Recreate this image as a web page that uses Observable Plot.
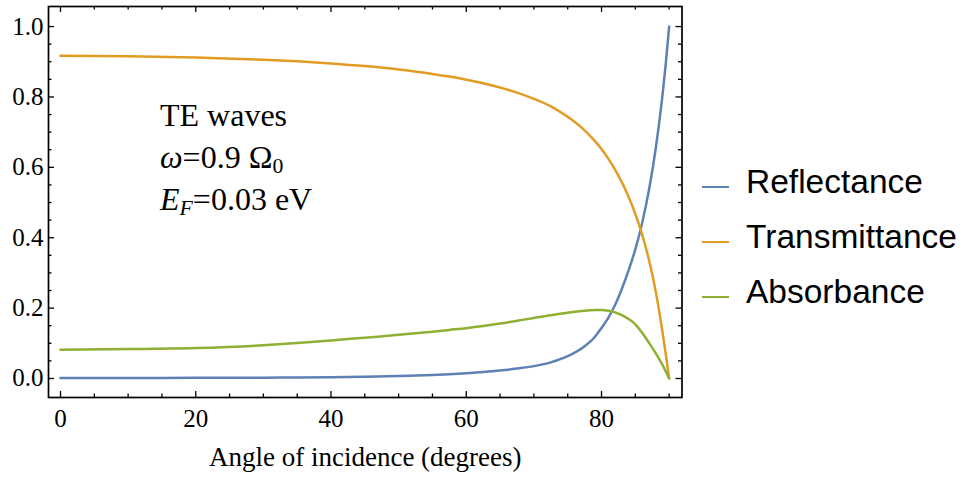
<!DOCTYPE html>
<html><head><meta charset="utf-8">
<script src="https://cdn.jsdelivr.net/npm/d3@7"></script>
<script src="https://cdn.jsdelivr.net/npm/@observablehq/plot@0.6"></script>
<style>
body{margin:0;background:#fff;}
#wrap{position:relative;width:963px;height:477px;overflow:hidden;}
#wrap svg{position:absolute;left:0;top:0;}
.note{position:absolute;left:160px;top:94px;font-family:"Liberation Serif","Times New Roman",serif;font-size:32px;line-height:42px;color:#000;white-space:nowrap;}
.note sub{font-size:0.68em;vertical-align:-0.22em;line-height:0;}
.legend{position:absolute;left:702px;top:153.6px;font-family:"Liberation Sans",Arial,sans-serif;font-size:33.5px;line-height:55px;color:#000;}
.row{position:relative;height:55px;white-space:nowrap;}
.sw{position:absolute;left:0;top:32px;width:27px;height:2px;}
.lab{position:absolute;left:44px;top:0;}
</style></head>
<body>
<div id="wrap"></div>
<script>
const angle         = [0, 10, 20, 30, 35, 40, 45, 50, 55, 57.5, 60, 62.5, 65, 67.5, 70, 72.5, 75, 77.5, 79, 80, 81, 82, 83, 84, 85, 86, 87, 88, 88.5, 89, 89.5, 90];
const reflectance   = [0.0015, 0.0016, 0.0018, 0.0024, 0.0030, 0.0038, 0.0050, 0.0069, 0.0101, 0.0124, 0.0151, 0.0185, 0.0227, 0.0282, 0.0352, 0.0459, 0.0633, 0.0917, 0.118, 0.1437, 0.1723, 0.2086, 0.2545, 0.3072, 0.3671, 0.4412, 0.5339, 0.6514, 0.722, 0.8024, 0.8943, 1.0];
const transmittance = [0.917, 0.9159, 0.9123, 0.9058, 0.9012, 0.8951, 0.8876, 0.878, 0.8655, 0.8579, 0.8491, 0.8388, 0.8267, 0.8122, 0.7947, 0.7732, 0.7435, 0.7051, 0.6751, 0.6518, 0.6246, 0.5938, 0.558, 0.5165, 0.4678, 0.4093, 0.3383, 0.249, 0.1943, 0.1338, 0.0691, 0.0];
const absorbance    = [0.082, 0.0835, 0.0865, 0.0945, 0.101, 0.108, 0.116, 0.124, 0.133, 0.138, 0.143, 0.149, 0.156, 0.164, 0.172, 0.180, 0.187, 0.1925, 0.1945, 0.1945, 0.1925, 0.188, 0.180, 0.169, 0.154, 0.130, 0.102, 0.072, 0.056, 0.039, 0.020, 0.0];

const seriesNames  = ["Reflectance", "Transmittance", "Absorbance"];
const seriesColors = ["#5e81b5", "#e19c24", "#8fb032"];
const xMajor = [0, 20, 40, 60, 80];
const xMinor = [5, 10, 15, 25, 30, 35, 45, 50, 55, 65, 70, 75, 85, 90];
const yMajor = [0, 0.2, 0.4, 0.6, 0.8, 1.0];
const yMinor = [0.05, 0.1, 0.15, 0.25, 0.3, 0.35, 0.45, 0.5, 0.55, 0.65, 0.7, 0.75, 0.85, 0.9, 0.95];
const xLabel = "Angle of incidence (degrees)";

const seriesValues = [reflectance, transmittance, absorbance];
const rows = seriesNames.flatMap((s, k) => angle.map((a, i) => ({a, v: seriesValues[k][i], s})));

const W = 963, H = 477;
const mL = 48, mR = 281.5, mT = 6, mB = 80;
const fw = W - mL - mR, fh = H - mT - mB;
const majLen = 6, minLen = 3.5;
const tickStyle = {stroke: "black", strokeWidth: 1.3};
const serif = "Liberation Serif";

const chart = Plot.plot({
  width: W, height: H,
  marginLeft: mL, marginRight: mR, marginTop: mT, marginBottom: mB,
  style: {fontFamily: serif, fontSize: "25px", color: "black", background: "white"},
  x: {domain: [-1.775, 91.9], axis: null},
  y: {domain: [-0.054, 1.057], axis: null},
  color: {domain: seriesNames, range: seriesColors},
  marks: [
    Plot.line(rows, {x: "a", y: "v", stroke: "s", strokeWidth: 2.5, curve: "monotone-x"}),
    Plot.tickX(xMajor, {x: d => d, insetTop: fh - majLen, ...tickStyle}),
    Plot.tickX(xMinor, {x: d => d, insetTop: fh - minLen, ...tickStyle}),
    Plot.tickX(xMajor, {x: d => d, insetBottom: fh - majLen, ...tickStyle}),
    Plot.tickX(xMinor, {x: d => d, insetBottom: fh - minLen, ...tickStyle}),
    Plot.tickY(yMajor, {y: d => d, insetRight: fw - majLen, ...tickStyle}),
    Plot.tickY(yMinor, {y: d => d, insetRight: fw - minLen, ...tickStyle}),
    Plot.tickY(yMajor, {y: d => d, insetLeft: fw - majLen, ...tickStyle}),
    Plot.tickY(yMinor, {y: d => d, insetLeft: fw - minLen, ...tickStyle}),
    Plot.frame({stroke: "black", strokeWidth: 1.7}),
    Plot.text(xMajor, {x: d => d, text: d => String(d), frameAnchor: "bottom", dy: 12, lineAnchor: "top", fontSize: 25, fontFamily: serif, fill: "black"}),
    Plot.text(yMajor, {y: d => d, text: d => d3.format(".1f")(d), frameAnchor: "left", dx: -5, textAnchor: "end", lineAnchor: "middle", fontSize: 25, fontFamily: serif, fill: "black"}),
    Plot.text([xLabel], {text: d => d, frameAnchor: "bottom", dy: 68, lineAnchor: "bottom", fontSize: 27, fontFamily: serif, fill: "black"})
  ]
});

const wrap = document.getElementById("wrap");
wrap.appendChild(chart);

const note = document.createElement("div");
note.className = "note";
note.innerHTML = 'TE waves<br><i>ω</i>=0.9 Ω<sub>0</sub><br><i>E<sub>F</sub></i>=0.03 eV';
wrap.appendChild(note);

const legend = document.createElement("div");
legend.className = "legend";
seriesNames.forEach((name, k) => {
  const row = document.createElement("div");
  row.className = "row";
  const sw = document.createElement("div");
  sw.className = "sw";
  sw.style.background = seriesColors[k];
  const lab = document.createElement("div");
  lab.className = "lab";
  lab.textContent = name;
  row.appendChild(sw);
  row.appendChild(lab);
  legend.appendChild(row);
});
wrap.appendChild(legend);
</script>
</body></html>
